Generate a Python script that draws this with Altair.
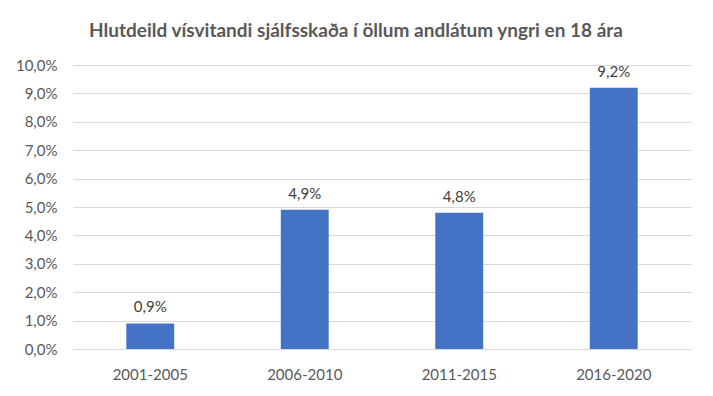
import altair as alt
import pandas as pd

periods = ["2001-2005", "2006-2010", "2011-2015", "2016-2020"]
shares = [0.009, 0.049, 0.048, 0.092]
labels = ["0,9%", "4,9%", "4,8%", "9,2%"]
y_ticks = [0, 0.01, 0.02, 0.03, 0.04, 0.05, 0.06, 0.07, 0.08, 0.09, 0.1]

df = pd.DataFrame({"period": periods, "share": shares, "label": labels})

FONT = "Lato"
GREY = "#595959"

x = alt.X("period:N", sort=periods, title=None,
          scale=alt.Scale(paddingInner=0.69, paddingOuter=0.345),
          axis=alt.Axis(labelAngle=0, domain=False, ticks=False, labelPadding=18,
                        labelFontSize=15, labelColor=GREY, labelFont=FONT))
y = alt.Y("share:Q", title=None,
          scale=alt.Scale(domain=[0, 0.1], nice=False),
          axis=alt.Axis(values=y_ticks, labelOverlap=False,
                        domain=False, ticks=False, labelPadding=16,
                        labelFontSize=15, labelColor=GREY, labelFont=FONT,
                        gridColor="#d9d9d9", gridWidth=1,
                        labelExpr="replace(format(datum.value, '.1%'), '.', ',')"))

base = alt.Chart(df).encode(x=x, y=y)
bars = base.mark_bar(color="#4472C4")
text = base.mark_text(baseline="bottom", dy=-8, fontSize=15, color="#404040",
                      font=FONT).encode(text="label:N")

chart = (bars + text).properties(
    width=618, height=284,
    title=alt.TitleParams("Hlutdeild vísvitandi sjálfsskaða í öllum andlátum yngri en 18 ára",
                          font=FONT, fontSize=19, fontWeight="bold", color=GREY,
                          anchor="middle", dx=-26, offset=17),
    autosize=alt.AutoSizeParams(type="none"),
    padding={"left": 65, "top": 57, "right": 14, "bottom": 39},
).configure_view(stroke=None)

chart.save("out.html", embed_options={"renderer": "svg", "actions": False})
